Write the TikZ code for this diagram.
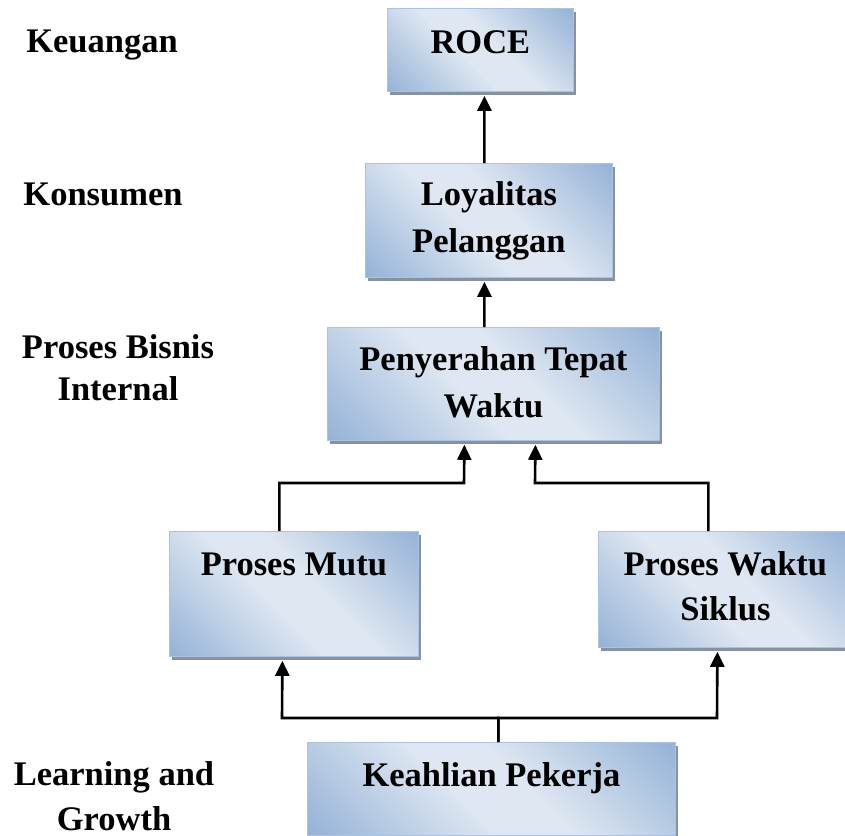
\documentclass[tikz,border=0pt]{standalone}
\usepackage{fontspec}
\setmainfont{Liberation Serif}
\usetikzlibrary{arrows.meta,shadows}
\definecolor{bxdk}{RGB}{149,179,215}
\definecolor{bxlt}{RGB}{222,231,242}
\definecolor{bxbd}{RGB}{170,195,225}
\definecolor{shgray}{RGB}{135,145,165}
\pgfdeclarehorizontalshading{boxsh}{100bp}{color(0bp)=(bxdk); color(15bp)=(bxdk); color(44bp)=(bxlt); color(56bp)=(bxlt); color(85bp)=(bxdk); color(100bp)=(bxdk)}
\newcommand\bxfont{\bfseries\fontsize{34.5bp}{46bp}\selectfont}
\newcommand\twoline[3]{{\fontsize{34.5bp}{#1}\selectfont\begin{tabular}[t]{@{}c@{}}#2\\#3\end{tabular}}}
\tikzset{
  bx/.style={rectangle, draw=bxbd, line width=0.8bp, shading=boxsh, shading angle=45,
    drop shadow={shadow xshift=3bp, shadow yshift=-4bp, fill=shgray, opacity=1},
    inner sep=0pt, anchor=north west, font=\bxfont},
  lbl/.style={inner sep=0pt, font=\bxfont, anchor=base},
  arr/.style={line width=2.6bp, -{Triangle[width=14bp,length=15bp]}, line join=miter},
}
\begin{document}
\begin{tikzpicture}[x=1bp,y=-1bp]
\useasboundingbox (0,0) rectangle (845,836);
% boxes
\node[bx, minimum width=186bp, minimum height=83bp, text height=45bp, text depth=38bp] (roce) at (387,8) {ROCE};
\node[bx, minimum width=247bp, minimum height=114bp, text height=42bp, text depth=72bp] (loyal) at (365,163) {\twoline{47bp}{Loyalitas}{Pelanggan}};
\node[bx, minimum width=332bp, minimum height=113bp, text height=43bp, text depth=70bp] (penyer) at (327,327) {\twoline{47bp}{Penyerahan Tepat}{Waktu}};
\node[bx, minimum width=249bp, minimum height=125bp, text height=44bp, text depth=81bp] (mutu) at (169,531) {Proses Mutu};
\node[bx, minimum width=254bp, minimum height=116bp, text height=44bp, text depth=72bp] (waktu) at (598,531) {\twoline{45bp}{Proses Waktu}{Siklus}};
\node[bx, minimum width=368bp, minimum height=93bp, text height=44bp, text depth=49bp] (keahlian) at (307,742) {Keahlian Pekerja};
% left labels
\node[lbl] (keu) at (102,52) {Keuangan};
\node[lbl] (kon) at (103,205) {Konsumen};
\node[lbl] (pbi) at (118,358) {\twoline{42bp}{Proses Bisnis}{Internal}};
\node[lbl] (lag) at (114,785) {\twoline{45bp}{Learning and}{Growth}};
% bend points
\coordinate (ja) at (464,483);
\coordinate (jb) at (535,483);
\coordinate (jc) at (282,718);
\coordinate (jd) at (717,718);
% connectors
\draw[arr] ([xshift=-4.5bp]loyal.north) -- ([xshift=4bp,yshift=-4bp]roce.south);
\draw[arr] ([xshift=-9bp]penyer.north) -- ([xshift=-4.5bp,yshift=-4bp]loyal.south);
\draw[arr] ([xshift=-14.5bp]mutu.north) |- (ja) -- ([xshift=-29bp,yshift=-4bp]penyer.south);
\draw[arr] ([xshift=-17bp]waktu.north) |- (jb) -- ([xshift=42bp,yshift=-4bp]penyer.south);
\draw[arr] ([xshift=7bp]keahlian.north) |- (jc) -- ([xshift=-11.5bp,yshift=-4bp]mutu.south);
\draw[arr] ([xshift=7bp]keahlian.north) |- (jd) -- ([xshift=-8bp,yshift=-4bp]waktu.south);
\end{tikzpicture}
\end{document}
